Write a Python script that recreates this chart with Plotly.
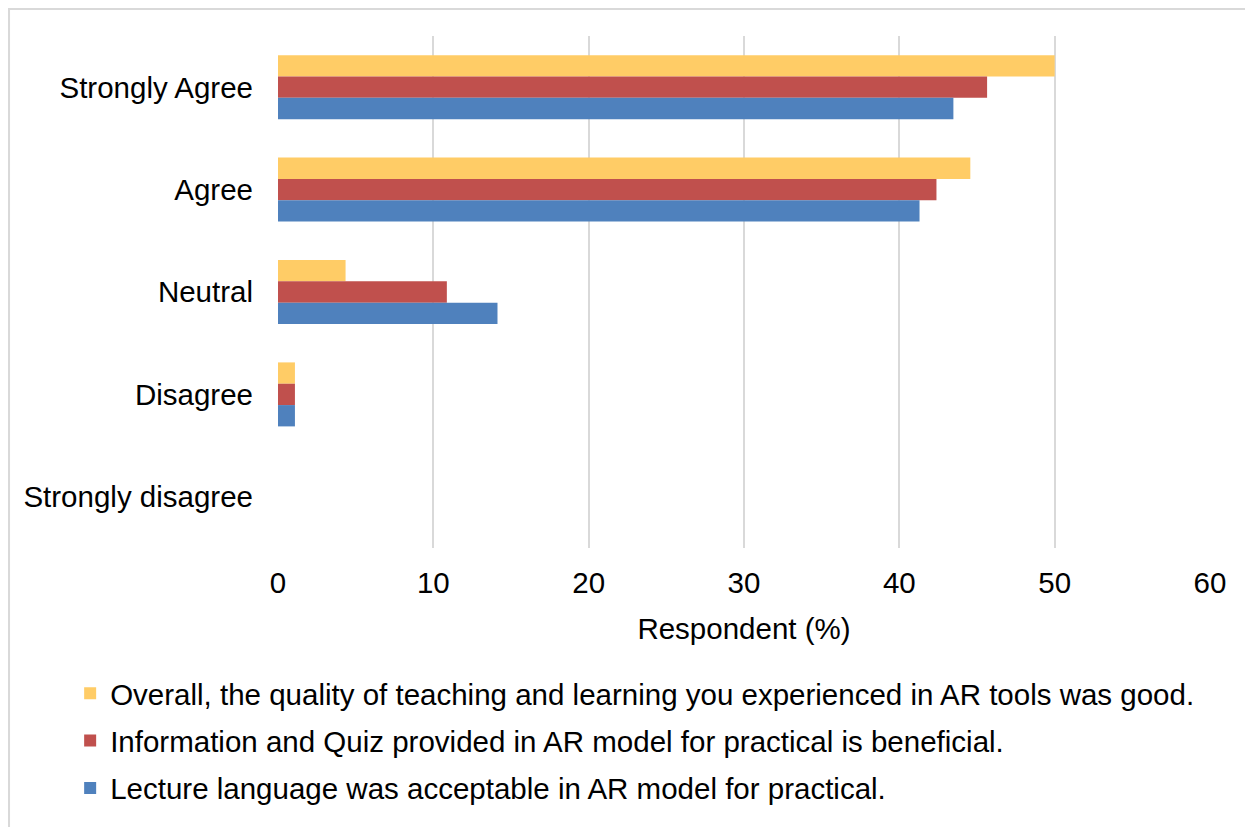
import plotly.graph_objects as go

categories = ["Strongly Agree", "Agree", "Neutral", "Disagree", "Strongly disagree"]
series_names = [
    "Overall, the quality of teaching and learning you experienced in AR tools was good.",
    "Information and Quiz provided in AR model for practical is beneficial.",
    "Lecture language was acceptable in AR model for practical.",
]
overall_vals = [50.0, 44.57, 4.35, 1.09, 0]
info_vals = [45.65, 42.39, 10.87, 1.09, 0]
lecture_vals = [43.48, 41.30, 14.13, 1.09, 0]
x_ticks = [0, 10, 20, 30, 40, 50, 60]
colors = ["#FFCC66", "#C0504D", "#4F81BD"]

FONT = "Liberation Sans, Arial, sans-serif"
FS = 29.5

fig = go.Figure()
for i, (name, vals) in enumerate(zip(series_names, [overall_vals, info_vals, lecture_vals])):
    fig.add_trace(go.Bar(
        y=categories, x=vals, name=name, orientation="h",
        marker=dict(color=colors[i], line=dict(width=0)),
        legendgroup=f"g{i}",
    ))

fig.update_layout(
    width=1253, height=827,
    margin=dict(l=270, r=51, t=28, b=287, autoexpand=False),
    paper_bgcolor="white", plot_bgcolor="white",
    barmode="group", bargap=0.375, bargroupgap=0,
    font=dict(family=FONT, size=FS, color="black"),
    showlegend=True,
    legend=dict(
        orientation="v", traceorder="grouped", tracegroupgap=6,
        xref="container", yref="container",
        x=0.0496, y=0.2025, xanchor="left", yanchor="top",
        font=dict(family=FONT, size=FS, color="black"),
        bgcolor="rgba(0,0,0,0)",
    ),
    shapes=[dict(
        type="rect", xref="paper", yref="paper",
        x0=-0.2886, x1=1.2, y0=-0.7, y1=1.0527,
        line=dict(color="#D9D9D9", width=2), fillcolor="rgba(0,0,0,0)", layer="below",
    )],
)

fig.update_xaxes(
    range=[0, 60], tickvals=x_ticks, ticktext=[str(t) for t in x_ticks],
    showgrid=True, gridcolor="#D9D9D9", gridwidth=2,
    zeroline=False, showline=False, ticks="",
    ticklabelstandoff=14,
    title=dict(text="Respondent (%)", standoff=20, font=dict(family=FONT, size=FS)),
)
fig.update_yaxes(
    categoryorder="array", categoryarray=categories, autorange="reversed",
    showgrid=False, zeroline=False, showline=False, ticks="",
    ticklabelstandoff=24,
)

fig.write_html("out.html")
